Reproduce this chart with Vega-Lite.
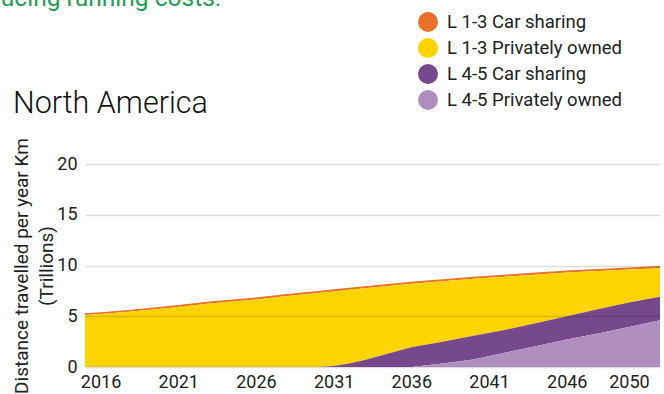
{
  "$schema": "https://vega.github.io/schema/vega-lite/v6.json",
  "autosize": "none",
  "width": 575,
  "height": 203,
  "padding": {"left": 85, "top": 164, "right": 4, "bottom": 27},
  "background": "white",
  "config": {
    "font": "Roboto",
    "view": {"stroke": null}
  },
  "title": {
    "text": "North America",
    "anchor": "start",
    "frame": "group",
    "dx": -72,
    "offset": -158,
    "baseline": "alphabetic",
    "fontSize": 30.5,
    "fontWeight": 300,
    "color": "#111111",
    "font": "Roboto"
  },
  "layer": [
    {
      "data": {
        "values": [
          {"year": 2015, "series": "L 1-3 Car sharing", "value": 0.18},
          {"year": 2016, "series": "L 1-3 Car sharing", "value": 0.18},
          {"year": 2018, "series": "L 1-3 Car sharing", "value": 0.18},
          {"year": 2021, "series": "L 1-3 Car sharing", "value": 0.19},
          {"year": 2023, "series": "L 1-3 Car sharing", "value": 0.19},
          {"year": 2026, "series": "L 1-3 Car sharing", "value": 0.19},
          {"year": 2028, "series": "L 1-3 Car sharing", "value": 0.2},
          {"year": 2030, "series": "L 1-3 Car sharing", "value": 0.2},
          {"year": 2031, "series": "L 1-3 Car sharing", "value": 0.2},
          {"year": 2032, "series": "L 1-3 Car sharing", "value": 0.2},
          {"year": 2033, "series": "L 1-3 Car sharing", "value": 0.2},
          {"year": 2034, "series": "L 1-3 Car sharing", "value": 0.2},
          {"year": 2036, "series": "L 1-3 Car sharing", "value": 0.2},
          {"year": 2038, "series": "L 1-3 Car sharing", "value": 0.2},
          {"year": 2040, "series": "L 1-3 Car sharing", "value": 0.2},
          {"year": 2042, "series": "L 1-3 Car sharing", "value": 0.2},
          {"year": 2044, "series": "L 1-3 Car sharing", "value": 0.2},
          {"year": 2046, "series": "L 1-3 Car sharing", "value": 0.2},
          {"year": 2048, "series": "L 1-3 Car sharing", "value": 0.2},
          {"year": 2050, "series": "L 1-3 Car sharing", "value": 0.2},
          {"year": 2052, "series": "L 1-3 Car sharing", "value": 0.2},

          {"year": 2015, "series": "L 1-3 Privately owned", "value": 5.12},
          {"year": 2016, "series": "L 1-3 Privately owned", "value": 5.22},
          {"year": 2018, "series": "L 1-3 Privately owned", "value": 5.47},
          {"year": 2021, "series": "L 1-3 Privately owned", "value": 5.91},
          {"year": 2023, "series": "L 1-3 Privately owned", "value": 6.26},
          {"year": 2026, "series": "L 1-3 Privately owned", "value": 6.66},
          {"year": 2028, "series": "L 1-3 Privately owned", "value": 7.0},
          {"year": 2030, "series": "L 1-3 Privately owned", "value": 7.3},
          {"year": 2031, "series": "L 1-3 Privately owned", "value": 7.35},
          {"year": 2032, "series": "L 1-3 Privately owned", "value": 7.25},
          {"year": 2033, "series": "L 1-3 Privately owned", "value": 7.05},
          {"year": 2034, "series": "L 1-3 Privately owned", "value": 6.8},
          {"year": 2036, "series": "L 1-3 Privately owned", "value": 6.25},
          {"year": 2038, "series": "L 1-3 Privately owned", "value": 5.95},
          {"year": 2040, "series": "L 1-3 Privately owned", "value": 5.63},
          {"year": 2042, "series": "L 1-3 Privately owned", "value": 5.25},
          {"year": 2044, "series": "L 1-3 Privately owned", "value": 4.8},
          {"year": 2046, "series": "L 1-3 Privately owned", "value": 4.3},
          {"year": 2048, "series": "L 1-3 Privately owned", "value": 3.75},
          {"year": 2050, "series": "L 1-3 Privately owned", "value": 3.25},
          {"year": 2052, "series": "L 1-3 Privately owned", "value": 2.82},

          {"year": 2015, "series": "L 4-5 Car sharing", "value": 0},
          {"year": 2016, "series": "L 4-5 Car sharing", "value": 0},
          {"year": 2018, "series": "L 4-5 Car sharing", "value": 0},
          {"year": 2021, "series": "L 4-5 Car sharing", "value": 0},
          {"year": 2023, "series": "L 4-5 Car sharing", "value": 0},
          {"year": 2026, "series": "L 4-5 Car sharing", "value": 0},
          {"year": 2028, "series": "L 4-5 Car sharing", "value": 0},
          {"year": 2030, "series": "L 4-5 Car sharing", "value": 0},
          {"year": 2031, "series": "L 4-5 Car sharing", "value": 0.1},
          {"year": 2032, "series": "L 4-5 Car sharing", "value": 0.35},
          {"year": 2033, "series": "L 4-5 Car sharing", "value": 0.7},
          {"year": 2034, "series": "L 4-5 Car sharing", "value": 1.1},
          {"year": 2036, "series": "L 4-5 Car sharing", "value": 1.95},
          {"year": 2038, "series": "L 4-5 Car sharing", "value": 2.15},
          {"year": 2040, "series": "L 4-5 Car sharing", "value": 2.32},
          {"year": 2042, "series": "L 4-5 Car sharing", "value": 2.25},
          {"year": 2044, "series": "L 4-5 Car sharing", "value": 2.25},
          {"year": 2046, "series": "L 4-5 Car sharing", "value": 2.3},
          {"year": 2048, "series": "L 4-5 Car sharing", "value": 2.4},
          {"year": 2050, "series": "L 4-5 Car sharing", "value": 2.4},
          {"year": 2052, "series": "L 4-5 Car sharing", "value": 2.32},

          {"year": 2015, "series": "L 4-5 Privately owned", "value": 0},
          {"year": 2016, "series": "L 4-5 Privately owned", "value": 0},
          {"year": 2018, "series": "L 4-5 Privately owned", "value": 0},
          {"year": 2021, "series": "L 4-5 Privately owned", "value": 0},
          {"year": 2023, "series": "L 4-5 Privately owned", "value": 0},
          {"year": 2026, "series": "L 4-5 Privately owned", "value": 0},
          {"year": 2028, "series": "L 4-5 Privately owned", "value": 0},
          {"year": 2030, "series": "L 4-5 Privately owned", "value": 0},
          {"year": 2031, "series": "L 4-5 Privately owned", "value": 0},
          {"year": 2032, "series": "L 4-5 Privately owned", "value": 0},
          {"year": 2033, "series": "L 4-5 Privately owned", "value": 0},
          {"year": 2034, "series": "L 4-5 Privately owned", "value": 0},
          {"year": 2036, "series": "L 4-5 Privately owned", "value": 0},
          {"year": 2038, "series": "L 4-5 Privately owned", "value": 0.35},
          {"year": 2040, "series": "L 4-5 Privately owned", "value": 0.75},
          {"year": 2042, "series": "L 4-5 Privately owned", "value": 1.4},
          {"year": 2044, "series": "L 4-5 Privately owned", "value": 2.05},
          {"year": 2046, "series": "L 4-5 Privately owned", "value": 2.7},
          {"year": 2048, "series": "L 4-5 Privately owned", "value": 3.3},
          {"year": 2050, "series": "L 4-5 Privately owned", "value": 3.95},
          {"year": 2052, "series": "L 4-5 Privately owned", "value": 4.6}
        ]
      },
      "mark": {"type": "area", "interpolate": "linear", "clip": true},
      "encoding": {
        "x": {
          "field": "year",
          "type": "quantitative",
          "scale": {"domain": [2015, 2052], "nice": false, "zero": false},
          "axis": {
            "values": [2016, 2021, 2026, 2031, 2036, 2041, 2046, 2050],
            "format": "d",
            "title": null,
            "domain": false,
            "ticks": false,
            "grid": false,
            "labelPadding": 6,
            "labelFontSize": 18,
            "labelColor": "#222222",
            "labelFont": "Roboto"
          }
        },
        "y": {
          "field": "value",
          "type": "quantitative",
          "stack": "zero",
          "scale": {"domain": [0, 20], "nice": false},
          "axis": {
            "values": [0, 5, 10, 15, 20],
            "title": ["Distance travelled per year Km", "(Trillions)"],
            "titleFontSize": 19,
            "titleFontWeight": "normal",
            "titleColor": "#222222",
            "titleFont": "Roboto",
            "titleLineHeight": 25,
            "titlePadding": 0,
            "domain": false,
            "ticks": false,
            "labelPadding": 8,
            "labelFontSize": 18,
            "labelColor": "#222222",
            "labelFont": "Roboto",
            "grid": true,
            "gridColor": "#000000",
            "gridOpacity": 0.13,
            "gridWidth": 1.5,
            "zindex": 1
          }
        },
        "color": {
          "field": "series",
          "type": "nominal",
          "scale": {
            "domain": ["L 1-3 Car sharing", "L 1-3 Privately owned", "L 4-5 Car sharing", "L 4-5 Privately owned"],
            "range": ["#E8702A", "#FDD300", "#76488C", "#B08FC0"]
          },
          "legend": {
            "orient": "none",
            "legendX": 333,
            "legendY": -152,
            "title": null,
            "symbolType": "circle",
            "symbolSize": 400,
            "symbolStrokeWidth": 0,
            "symbolOpacity": 1,
            "labelFontSize": 18.5,
            "labelLimit": 400,
            "labelColor": "#222222",
            "labelFont": "Roboto",
            "labelOffset": 9,
            "rowPadding": 6,
            "padding": 0
          }
        },
        "order": {"field": "series", "sort": "descending"}
      }
    },
    {
      "data": {"values": [{"note": "reducing running costs."}]},
      "mark": {
        "type": "text",
        "align": "left",
        "baseline": "alphabetic",
        "fontSize": 24.5,
        "font": "Roboto",
        "color": "#1F9E55"
      },
      "encoding": {
        "x": {"datum": 2007.34, "type": "quantitative"},
        "y": {"datum": 35.6, "type": "quantitative"},
        "text": {"field": "note"}
      }
    }
  ]
}
